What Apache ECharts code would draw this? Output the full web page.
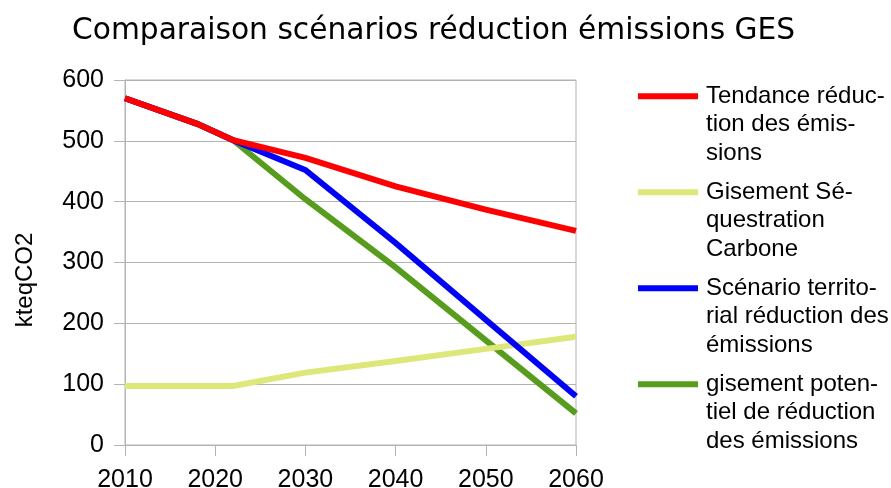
<!DOCTYPE html>
<html>
<head>
<meta charset="utf-8">
<script src="https://cdn.jsdelivr.net/npm/echarts@6/dist/echarts.min.js"></script>
<style>
html,body{margin:0;padding:0;background:#fff;}
#chart{width:891px;height:488px;}
</style>
</head>
<body>
<div id="chart"></div>
<script>
const titleText = 'Comparaison scénarios réduction émissions GES';
const yAxisName = 'kteqCO2';
const years = [2010, 2018, 2022, 2030, 2040, 2050, 2060];
const seriesNames = [
  'Tendance réduc-\ntion des émis-\nsions',
  'Gisement Sé-\nquestration\nCarbone',
  'Scénario territo-\nrial réduction des\némissions',
  'gisement poten-\ntiel de réduction\ndes émissions'
];
const tendance = [570, 528, 501, 472, 425, 387, 352];
const sequestration = [97, 97, 97, 119, 138, 158, 178];
const scenario = [570, 528, 501, 452, 332, 206, 80];
const gisement = [570, 528, 501, 404, 292, 172, 52];
const colors = ['#ff0000', '#dde77a', '#0000ff', '#579d1c'];
const zOrder = [4, 2, 3, 1];

const allValues = [tendance, sequestration, scenario, gisement];
const pair = arr => years.map((y, i) => [y, arr[i]]);

const LH = 28.5;
const chart = echarts.init(document.getElementById('chart'));
chart.setOption({
  backgroundColor: '#ffffff',
  animation: false,
  title: {
    text: titleText,
    left: 72,
    top: 16,
    padding: 0,
    textStyle: { fontFamily: 'DejaVu Sans', fontSize: 29.7, fontWeight: 'normal', color: '#000' }
  },
  grid: {
    left: 125, right: 315, top: 80, bottom: 43,
    outerBoundsMode: 'none',
    containLabel: false,
    show: true, borderColor: '#b3b3b3', borderWidth: 1
  },
  legend: {
    orient: 'vertical',
    left: 638,
    top: 25,
    padding: 0,
    itemGap: -46.5,
    itemWidth: 60,
    itemHeight: 6,
    icon: 'rect',
    data: seriesNames,
    formatter: name => '\n\n' + name,
    textStyle: {
      fontFamily: 'Liberation Sans', fontSize: 24, color: '#000',
      lineHeight: LH, padding: [0, 0, 0, 3]
    }
  },
  xAxis: {
    type: 'value', min: 2010, max: 2060, interval: 10,
    axisLine: { show: true, lineStyle: { color: '#b3b3b3' } },
    axisTick: { show: true, length: 11, lineStyle: { color: '#b3b3b3' } },
    splitLine: { show: false },
    axisLabel: {
      fontFamily: 'Liberation Sans', fontSize: 25, color: '#000', margin: 23,
      formatter: v => String(v)
    }
  },
  yAxis: {
    type: 'value', min: 0, max: 600, interval: 100,
    name: yAxisName, nameLocation: 'middle', nameGap: 88,
    nameTextStyle: { fontFamily: 'Liberation Sans', fontSize: 24, color: '#000', padding: [0, 35, 0, 0] },
    axisLine: { show: true, lineStyle: { color: '#b3b3b3' } },
    axisTick: { show: true, length: 11, lineStyle: { color: '#b3b3b3' } },
    splitLine: { show: true, lineStyle: { color: '#b3b3b3' } },
    axisLabel: { fontFamily: 'Liberation Sans', fontSize: 25, color: '#000', margin: 21 }
  },
  series: seriesNames.map((name, i) => ({
    name: name,
    type: 'line',
    data: pair(allValues[i]),
    symbol: 'none',
    z: zOrder[i],
    color: colors[i],
    lineStyle: { color: colors[i], width: 6, cap: 'butt', join: 'miter' }
  }))
});
</script>
</body>
</html>
